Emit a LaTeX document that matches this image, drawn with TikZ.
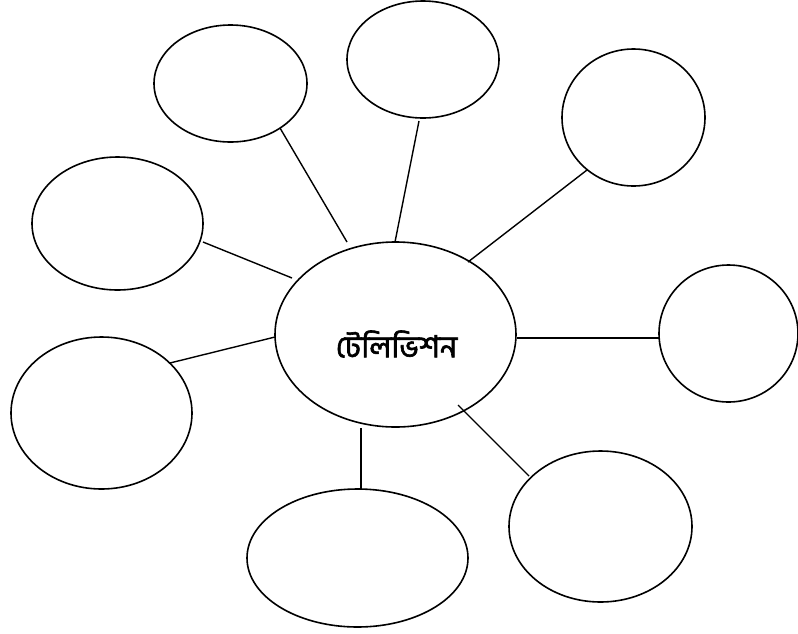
\documentclass[tikz,border=0pt]{standalone}
\usepackage{fontspec}
\newfontfamily\bnfont[Script=Bengali,FakeBold=2]{Hind Siliguri}
\usetikzlibrary{shapes.geometric}
\tikzset{
  bubble/.style={draw=black, line width=1.6pt, ellipse, inner sep=0pt, fill=white},
  spoke/.style={draw=black, line width=1.4pt},
}
\begin{document}
\begin{tikzpicture}[x=1pt,y=-1pt]
\useasboundingbox[fill=white] (0,0) rectangle (798,633);
% centre
\node[bubble, minimum width=241pt, minimum height=185pt] (c) at (395.5,334.5) {};
\node[font=\bnfont\fontsize{30.5}{36}\selectfont, inner sep=0pt] (ct) at (396.5,344) {টেলিভিশন};
% outer ellipses
\node[bubble, minimum width=153pt, minimum height=117pt] (tl) at (230.5,83.5) {};
\node[bubble, minimum width=152pt, minimum height=117pt] (t)  at (423,59.5) {};
\node[bubble, minimum width=143pt, minimum height=137pt] (tr) at (633.5,117.5) {};
\node[bubble, minimum width=171pt, minimum height=133pt] (l)  at (117.5,223.5) {};
\node[bubble, minimum width=139pt, minimum height=137pt] (r)  at (728.5,333.5) {};
\node[bubble, minimum width=181pt, minimum height=152pt] (ll) at (101.5,413) {};
\node[bubble, minimum width=183pt, minimum height=151pt] (br) at (600.5,526.5) {};
\node[bubble, minimum width=221pt, minimum height=138pt] (b)  at (357.5,558) {};
% connector end points
\coordinate (tlA) at (280,128);  \coordinate (tlB) at (347,242);
\coordinate (tA)  at (419,121);  \coordinate (tB)  at (395,242);
\coordinate (trA) at (587,170);  \coordinate (trB) at (468,262);
\coordinate (rA)  at (659,338);  \coordinate (rB)  at (517,338);
\coordinate (brA) at (529,476);  \coordinate (brB) at (458,405);
\coordinate (bA)  at (361,489);  \coordinate (bB)  at (361,428);
\coordinate (llA) at (170,363);  \coordinate (llB) at (275,337);
\coordinate (lA)  at (203,242);  \coordinate (lB)  at (292,278);
\draw[spoke] (tlA) -- (tlB);
\draw[spoke] (tA) -- (tB);
\draw[spoke] (trA) -- (trB);
\draw[spoke] (rA) -- (rB);
\draw[spoke] (brA) -- (brB);
\draw[spoke] (bA) -- (bB);
\draw[spoke] (llA) -- (llB);
\draw[spoke] (lA) -- (lB);
\end{tikzpicture}
\end{document}
